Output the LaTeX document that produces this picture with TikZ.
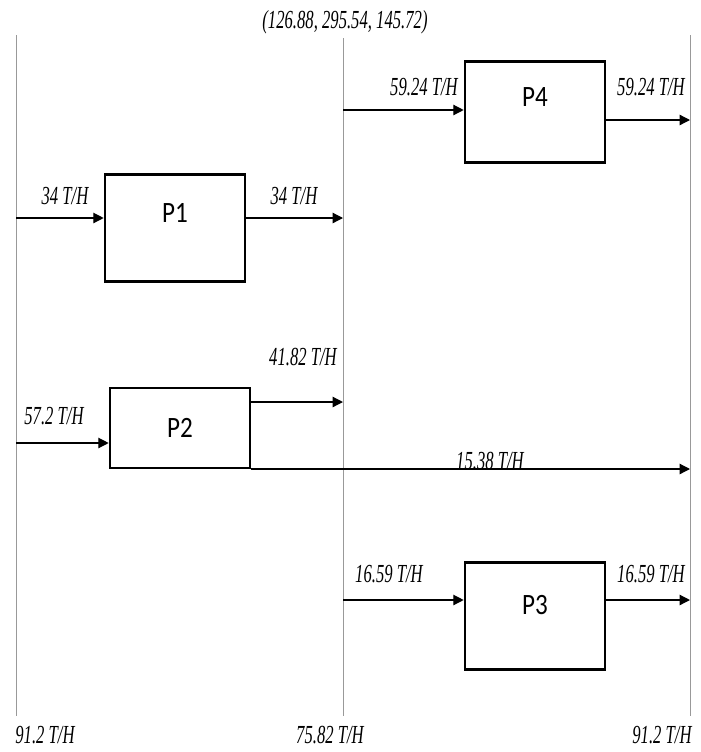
\documentclass[tikz,border=0pt]{standalone}
\usepackage{fontspec}
\setmainfont{Liberation Serif}
\newfontfamily\flowfont[FakeStretch=0.64]{Liberation Serif}
\newfontfamily\procfont[FakeStretch=0.85]{Carlito}
\usetikzlibrary{arrows.meta}

\begin{document}
\begin{tikzpicture}[
    x=0.025cm, y=-0.025cm,
    proc/.style={draw, line width=1.8pt, minimum width=3.5cm, minimum height=#1, inner sep=0pt, font=\procfont\fontsize{21}{23}\selectfont},
    flow/.style={-{Triangle[length=2.6mm, width=2.6mm]}, line width=0.9pt},
    rail/.style={gray!80, line width=0.7pt},
    lab/.style={font=\flowfont\itshape\fontsize{18.5}{20}\selectfont, inner sep=0pt}
]
\useasboundingbox (0,0) rectangle (700,752);

% Header mass balance and the three vertical rails
\node[lab] (title) at (345,22) {(126.88, 295.54, 145.72)};
\coordinate (railL) at (16,35);
\coordinate (railM) at (343,38);
\coordinate (railR) at (690,35);
\coordinate (railLb) at (16,716);
\coordinate (railMb) at (343,716);
\coordinate (railRb) at (690,716);
\draw[rail] (railL) -- (railLb);
\draw[rail] (railM) -- (railMb);
\draw[rail] (railR) -- (railRb);

% Rail totals at the bottom
\node[lab] (totL) at (45,735) {91.2 T/H};
\node[lab] (totM) at (330,735) {75.82 T/H};
\node[lab] (totR) at (662,735) {91.2 T/H};

% Process boxes
\node[proc=2.675cm, text depth=0.75cm] (p1) at (175,228) {P1};
\node[proc=2cm] (p2) at (180,428) {P2};
\node[proc=2.525cm, text depth=0.75cm] (p4) at (535,112) {P4};
\node[proc=2.675cm, text depth=0.55cm] (p3) at (535,616) {P3};

% Points where the flows leave or reach the rails
\coordinate (in1) at (16,218);
\coordinate (out1) at (343,218);
\coordinate (in2) at (16,443);
\coordinate (out2) at (343,402);
\coordinate (out2b) at (690,469);
\coordinate (in4) at (343,110);
\coordinate (out4) at (690,120);
\coordinate (in3) at (343,600);
\coordinate (out3) at (690,600);

% Flows
\draw[flow] (in1) -- (in1 -| p1.west);
\draw[flow] (out1 -| p1.east) -- (out1);
\draw[flow] (in2) -- (in2 -| p2.west);
\draw[flow] (out2 -| p2.east) -- (out2);
\draw[flow] (out2b -| p2.east) -- (out2b);
\draw[flow] (in4) -- (in4 -| p4.west);
\draw[flow] (out4 -| p4.east) -- (out4);
\draw[flow] (in3) -- (in3 -| p3.west);
\draw[flow] (out3 -| p3.east) -- (out3);

% Flow rates
\node[lab] (f1a) at (65,196) {34 T/H};
\node[lab] (f1b) at (294,196) {34 T/H};
\node[lab] (f2a) at (54,416) {57.2 T/H};
\node[lab] (f2b) at (303,357) {41.82 T/H};
\node[lab] (f2c) at (490,461) {15.38 T/H};
\node[lab] (f4a) at (424,87) {59.24 T/H};
\node[lab] (f4b) at (651,87) {59.24 T/H};
\node[lab] (f3a) at (389,574) {16.59 T/H};
\node[lab] (f3b) at (651,574) {16.59 T/H};
\end{tikzpicture}
\end{document}
